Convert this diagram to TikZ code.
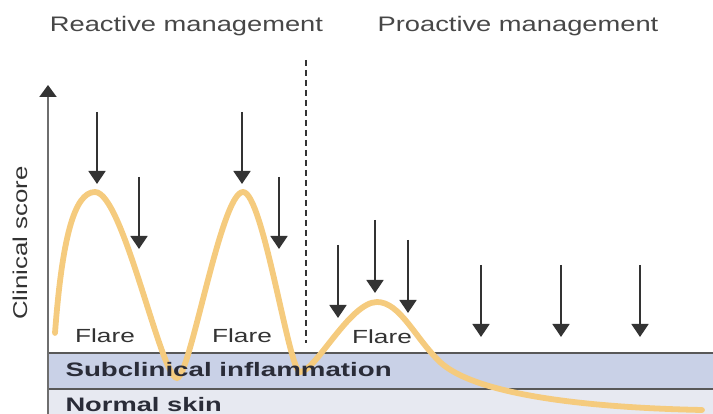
\documentclass[tikz,border=0pt]{standalone}
\usepackage{fontspec}
\setmainfont{Liberation Sans}
\usetikzlibrary{arrows.meta}
\definecolor{curvecol}{HTML}{F5CB7E}
\definecolor{bandA}{HTML}{C9D1E7}
\definecolor{bandB}{HTML}{E7E9F1}
\definecolor{inkc}{HTML}{333333}
\definecolor{bandtext}{HTML}{2A2C38}
\definecolor{axiscol}{HTML}{6E6E6E}
\tikzset{
  treat/.style={draw=inkc, line width=1.5pt, -{Triangle[width=17pt,length=13pt]}},
  flaretext/.style={anchor=base, text=inkc, font=\fontsize{19}{22}\selectfont},
  titletext/.style={anchor=base, text=inkc!90, font=\fontsize{21}{25}\selectfont},
  bandlabel/.style={anchor=base west, text=bandtext, font=\fontsize{19.5}{23}\selectfont\bfseries},
}
\begin{document}
\begin{tikzpicture}[x=1pt,y=-1pt]
\useasboundingbox (0,0) rectangle (713,414);
% bands
\fill[bandA] (48,353) rectangle (713,389);
\fill[bandB] (48,389) rectangle (713,414);
\coordinate (bl1) at (48,353); \coordinate (br1) at (713,353);
\coordinate (bl2) at (48,389); \coordinate (br2) at (713,389);
\draw[axiscol!80!black, line width=1.6pt] (bl1) -- (br1);
\draw[axiscol!80!black, line width=1.6pt] (bl2) -- (br2);
% curve
\draw[curvecol, line width=5.8pt, line cap=round]
  (55,333) .. controls (62,240) and (74,192) .. (95,192)
  .. controls (123,192) and (161,378) .. (177,378)
  .. controls (190,378) and (221,192) .. (243,192)
  .. controls (263,192) and (289,372) .. (300,372)
  .. controls (315,372) and (350,302) .. (377,302)
  .. controls (400,302) and (415,338) .. (440,362)
  .. controls (470,390) and (560,407) .. (702,410);
% band labels
\node[bandlabel] (sub) at (62,377) {\scalebox{1.42}[1]{Subclinical inflammation}};
\node[bandlabel] (norm) at (62,411) {\scalebox{1.40}[1]{Normal skin}};
% flare labels
\node[flaretext] (f1) at (105,343) {\scalebox{1.38}[1]{Flare}};
\node[flaretext] (f2) at (242,343) {\scalebox{1.38}[1]{Flare}};
\node[flaretext] (f3) at (382,344) {\scalebox{1.38}[1]{Flare}};
% titles
\node[titletext] (t1) at (186.5,32) {\scalebox{1.3}[1]{Reactive management}};
\node[titletext] (t2) at (518,32) {\scalebox{1.3}[1]{Proactive management}};
% y axis
\coordinate (ax0) at (48,414);
\coordinate (ax1) at (48,85);
\draw[axiscol, line width=2pt, -{Triangle[width=17pt,length=12pt,color=inkc]}] (ax0) -- (ax1);
\node[rotate=90, text=inkc, font=\fontsize{20}{24}\selectfont] (ylab) at (20,243) {\scalebox{1.29}[1]{Clinical score}};
% divider
\coordinate (d0) at (306,60);
\coordinate (d1) at (306,343);
\draw[inkc, line width=1.3pt, dash pattern=on 6pt off 4pt] (d0) -- (d1);
% treatment arrows
\foreach \n/\x/\ya/\yb in {1/97/112/184, 2/139/177/249, 3/242/112/184, 4/279/177/249,
  5/338/245/318, 6/375/220/293, 7/408/240/313, 8/481/265/337, 9/561/265/337, 10/640/265/337}{
  \coordinate (s\n) at (\x,\ya);
  \coordinate (e\n) at (\x,\yb);
  \draw[treat] (s\n) -- (e\n);
}
\end{tikzpicture}
\end{document}
